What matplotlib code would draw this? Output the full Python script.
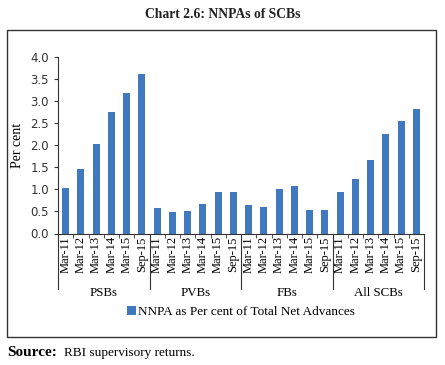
import matplotlib.pyplot as plt
from matplotlib.patches import Rectangle
from matplotlib.transforms import blended_transform_factory

# data
groups = ['PSBs', 'PVBs', 'FBs', 'All SCBs']
periods = ['Mar-11', 'Mar-12', 'Mar-13', 'Mar-14', 'Mar-15', 'Sep-15']
psbs = [1.03, 1.47, 2.02, 2.76, 3.18, 3.61]
pvbs = [0.58, 0.48, 0.52, 0.67, 0.93, 0.94]
fbs = [0.65, 0.61, 1.00, 1.08, 0.53, 0.53]
all_scbs = [0.93, 1.24, 1.67, 2.25, 2.56, 2.82]
yticks = [0.0, 0.5, 1.0, 1.5, 2.0, 2.5, 3.0, 3.5, 4.0]

values = psbs + pvbs + fbs + all_scbs
labels = periods * len(groups)
x = list(range(len(values)))

W, H = 445, 365
fig = plt.figure(figsize=(W / 100, H / 100), dpi=100)
serif = 'Liberation Serif'
bar_color = '#4179c0'

# outer frame
fig.patches.append(Rectangle((7 / W, 1 - 337 / H), 429 / W, 307 / H,
                             transform=fig.transFigure, fill=False,
                             edgecolor='#333333', linewidth=1.0))

fig.text(0.5, 1 - 15 / H, 'Chart 2.6: NNPAs of SCBs', ha='center', va='center',
         fontsize=9.8, fontweight='bold', family=serif, color='#222222')

ax = fig.add_axes([58 / W, 1 - 233.5 / H, 366 / W, 176.5 / H])
ax.bar(x, values, width=0.45, color=bar_color, label='NNPA as Per cent of Total Net Advances')

ax.set_ylim(0, 4)
ax.set_xlim(-0.5, len(values) - 0.5)
ax.set_yticks(yticks)
ax.set_yticklabels([f'{v:.1f}' for v in yticks], fontsize=8.5, color='#333333')
ax.set_ylabel('Per cent', family=serif, fontsize=10)
ax.yaxis.set_label_coords((24 - 58) / 366, 0.5)

for s in ['top', 'right']:
    ax.spines[s].set_visible(False)
ax.spines['left'].set_color('#333333')
ax.spines['bottom'].set_color('#333333')
ax.tick_params(axis='y', length=3, color='#333333')

ax.set_xticks(x)
ax.set_xticklabels(labels, rotation=90, family=serif, fontsize=9)
ax.tick_params(axis='x', length=0, pad=2)
ax.set_xticks([i - 0.5 for i in range(len(values) + 1)], minor=True)
ax.tick_params(axis='x', which='minor', length=3, color='#333333')

# group separators and group names
tr = blended_transform_factory(ax.transData, ax.transAxes)
sep_bottom = -(289 - 233.5) / 176.5
for g in range(len(groups) + 1):
    xs = g * len(periods) - 0.5
    ax.plot([xs, xs], [0, sep_bottom], transform=tr, color='#333333',
            linewidth=0.8, clip_on=False)
for g, name in enumerate(groups):
    xc = g * len(periods) + (len(periods) - 1) / 2
    ax.text(xc, -(293 - 233.5) / 176.5, name, transform=tr, ha='center',
            va='center', family=serif, fontsize=9.3)

ax.legend(loc='center', bbox_to_anchor=(0.5, -(312 - 233.5) / 176.5),
          frameon=False, prop={'family': serif, 'size': 9.5},
          handlelength=0.7, handleheight=0.7, handletextpad=0.2)

fig.text(7 / W, 1 - 353 / H, 'Source:', ha='left', va='center',
         fontsize=11, fontweight='bold', family=serif)
fig.text(64 / W, 1 - 353 / H, 'RBI supervisory returns.', ha='left', va='center',
         fontsize=9.5, family=serif)

fig.savefig('out.png', dpi=100)
